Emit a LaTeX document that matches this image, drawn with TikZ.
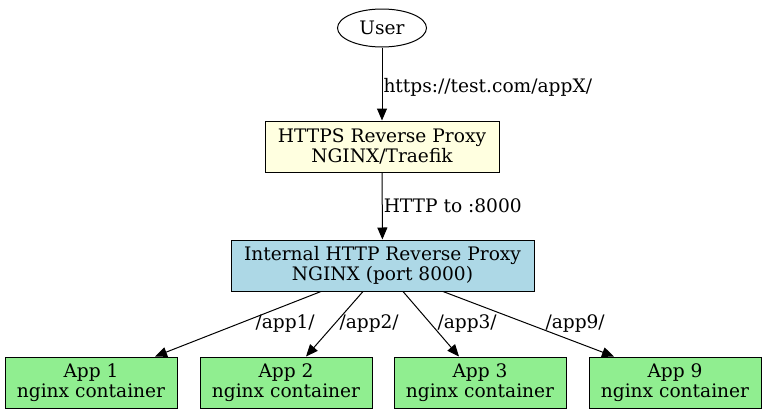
\documentclass[tikz,border=0pt]{standalone}
\usepackage{fontspec}
\setmainfont{DejaVu Serif}
\usetikzlibrary{arrows.meta,shapes.geometric}

\definecolor{lightyellow}{HTML}{FFFFE0}
\definecolor{lightblue}{HTML}{ADD8E6}
\definecolor{lightgreen}{HTML}{90EE90}

\tikzstyle{txt} = [font=\fontsize{18.6}{20}\selectfont, align=center, inner sep=0pt]
\tikzstyle{box} = [txt, draw=black, line width=1pt, rectangle, minimum height=51pt]
\tikzstyle{appbox} = [box, fill=lightgreen, minimum width=172pt]
\tikzstyle{arr} = [line width=1pt, -{Triangle[length=12pt,width=10pt]}]
\tikzstyle{elabel} = [txt, anchor=west]

\begin{document}
\begin{tikzpicture}[x=1pt,y=-1pt]
      \useasboundingbox (0,0) rectangle (765,415);
      \node[txt, draw=black, line width=1pt, ellipse, minimum width=89pt, minimum height=38pt] (user) at (382,28) {User};
      \node[box, fill=lightyellow, minimum width=234pt] (https) at (382,146.5) {HTTPS Reverse Proxy\\NGINX/Traefik};
      \node[box, fill=lightblue, minimum width=303pt] (internal) at (382.5,265.5) {Internal HTTP Reverse Proxy\\NGINX (port 8000)};
      \node[appbox] (app1) at (91,382.5) {App 1\\nginx container};
      \node[appbox] (app2) at (286,382.5) {App 2\\nginx container};
      \node[appbox] (app3) at (480,382.5) {App 3\\nginx container};
      \node[appbox] (app9) at (675,382.5) {App 9\\nginx container};
      \draw[arr] (user) -- node[elabel, pos=0.55, xshift=1pt] {https://test.com/appX/} (https);
      \draw[arr] (https) -- node[elabel, pos=0.5, xshift=1pt] {HTTP to :8000} (internal);
      \draw[arr] ([xshift=-61.5pt]internal.south) -- node[elabel, pos=0.5, xshift=17pt] {/app1/} ([xshift=64pt]app1.north);
      \draw[arr] ([xshift=-19.5pt]internal.south) -- node[elabel, pos=0.5, xshift=4.5pt] {/app2/} ([xshift=20pt]app2.north);
      \draw[arr] ([xshift=20.5pt]internal.south) -- node[elabel, pos=0.5, xshift=6pt] {/app3/} ([xshift=-21pt]app3.north);
      \draw[arr] ([xshift=60.5pt]internal.south) -- node[elabel, pos=0.5, xshift=16.5pt] {/app9/} ([xshift=-61pt]app9.north);
    \end{tikzpicture}
\end{document}
